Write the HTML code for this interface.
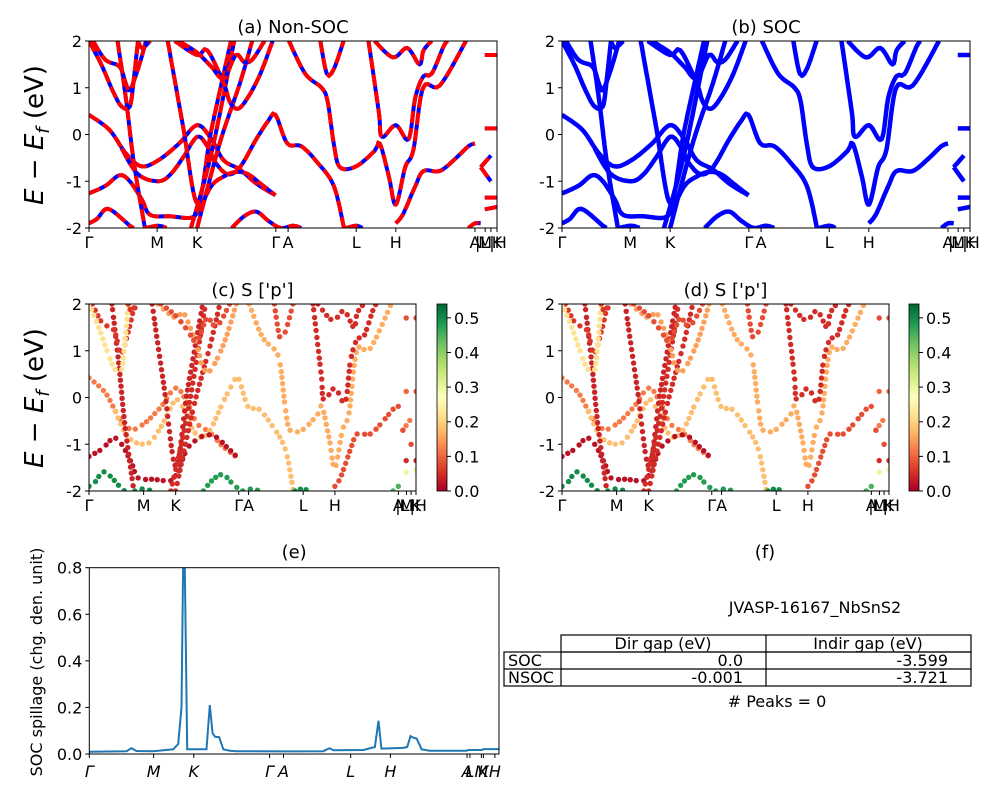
<!DOCTYPE html>
<html><head><meta charset="utf-8"><style>
html,body{margin:0;padding:0;background:#fff;}
svg{display:block;font-family:"DejaVu Sans","Liberation Sans",sans-serif;}
</style></head><body>
<svg id="fig" width="1000" height="800" viewBox="0 0 1000 800" xmlns="http://www.w3.org/2000/svg">
<defs>
<linearGradient id="rdylgn" x1="0" y1="1" x2="0" y2="0">
<stop offset="0" stop-color="#a50026"/><stop offset="0.1" stop-color="#d73027"/><stop offset="0.2" stop-color="#f46d43"/><stop offset="0.3" stop-color="#fdae61"/><stop offset="0.4" stop-color="#fee08b"/><stop offset="0.5" stop-color="#ffffbf"/><stop offset="0.6" stop-color="#d9ef8b"/><stop offset="0.7" stop-color="#a6d96a"/><stop offset="0.8" stop-color="#66bd63"/><stop offset="0.9" stop-color="#1a9850"/><stop offset="1" stop-color="#006837"/>
</linearGradient>
</defs>
<g id="layer"></g>
<g>
<text x="815" y="613" font-size="16" text-anchor="middle">JVASP-16167_NbSnS2</text>
<text x="765" y="558" font-size="18" text-anchor="middle">(f)</text>
<g fill="none" stroke="#000" stroke-width="1.2">
<rect x="561" y="635" width="410" height="17"/><rect x="504" y="652" width="467" height="34"/>
<line x1="504" y1="669" x2="971" y2="669"/><line x1="561" y1="652" x2="561" y2="686"/><line x1="766" y1="635" x2="766" y2="686"/>
</g>
<g font-size="16">
<text x="663" y="649" text-anchor="middle">Dir gap (eV)</text>
<text x="868" y="649" text-anchor="middle">Indir gap (eV)</text>
<text x="508" y="666">SOC</text>
<text x="508" y="683">NSOC</text>
<text x="743" y="666" text-anchor="end">0.0</text>
<text x="743" y="683" text-anchor="end">-0.001</text>
<text x="948" y="666" text-anchor="end">-3.599</text>
<text x="948" y="683" text-anchor="end">-3.721</text>
<text x="777" y="707" text-anchor="middle"># Peaks = 0</text>
</g>
</g>
</svg>
<script>
// band data: k fraction along path, energy (eV)
const bandK = [
 [0,0.05,0.09,0.128,0.17,0.22,0.265,0.3,0.33,0.37,0.41,0.457],
 [0.08,0.12,0.17,0.2,0.23,0.265,0.29,0.31,0.34,0.37,0.41,0.44,0.457,0.486,0.52,0.56,0.6,0.625],
 [0,0.04,0.075,0.1,0.13,0.15,0.2,0.25,0.27,0.3,0.33,0.36,0.39,0.42,0.457],
 [0,0.02,0.04,0.06,0.1,0.11],
 [0.14,0.17,0.19],
 [0.35,0.38,0.41,0.44,0.47,0.5,0.52],
 [0.07,0.09,0.11,0.137],
 [0.01,0.04,0.075,0.09,0.1,0.12,0.14],
 [0,0.03,0.06,0.08,0.1,0.11,0.12],
 [0.193,0.23,0.266,0.3,0.348],
 [0.25,0.3,0.356],
 [0.265,0.32,0.37,0.4],
 [0.21,0.265,0.29,0.33,0.345,0.365,0.39,0.42,0.45],
 [0.22,0.265,0.3,0.33,0.36,0.38,0.4,0.43],
 [0.49,0.53,0.57,0.585,0.6,0.615,0.655,0.7,0.713,0.735,0.752,0.775,0.795,0.819,0.86,0.924],
 [0.685,0.71,0.718,0.752,0.783,0.8,0.82,0.84,0.87,0.88],
 [0.752,0.77,0.8,0.82,0.86,0.9,0.93,0.946],
 [0.63,0.655,0.67],
 [0.7,0.745,0.78,0.81,0.82,0.84],
 [0.567,0.583,0.6,0.624],
 [0.12,0.13,0.15],
 [0.97,1],[0.97,1],[0.96,0.975,0.985],[0.96,0.985],[0.97,1],[0.97,1],[0.93,0.946,0.96]
];
const bandE = [
 [0.42,0.1,-0.4,-0.68,-0.55,-0.2,0.2,-0.1,-0.55,-0.75,-1.05,-1.3],
 [-0.3,-0.85,-1.0,-0.85,-0.5,-0.05,-0.25,-0.6,-0.85,-0.7,-0.1,0.3,0.42,-0.19,-0.25,-0.6,-1.1,-2.0],
 [-1.26,-1.1,-0.87,-1.0,-1.4,-1.72,-1.75,-1.78,-1.6,-1.1,-0.9,-0.8,-0.85,-1.05,-1.3],
 [-1.9,-1.8,-1.6,-1.65,-1.95,-2],
 [-2,-1.95,-2],
 [-2,-1.75,-1.65,-1.85,-2,-1.95,-2],
 [2,0.8,-0.6,-2],
 [2,1.6,1.45,1.1,0.95,1.4,2],
 [2,1.5,0.9,0.6,0.6,1.2,2],
 [2,0.2,-1.47,0.1,2],
 [-2,-0.4,2],
 [-2,-0.2,1.1,2],
 [2,1.7,1.8,1.1,0.7,0.55,0.8,1.3,2],
 [2,1.75,1.45,1.2,1.7,1.55,1.6,2],
 [2,1.3,1.0,0.7,-0.2,-0.7,-0.68,-0.35,-0.2,-0.9,-1.5,-0.7,-0.33,1.0,1.05,2],
 [2,0.5,-0.05,0.2,-0.1,0.8,1.25,1.3,1.9,2],
 [-1.9,-1.7,-1.1,-0.78,-0.78,-0.5,-0.25,-0.19],
 [-2,-1.95,-2],
 [2,1.65,1.85,1.5,1.8,2],
 [2,1.3,1.4,2],
 [2,1.85,2],
 [1.7,1.7],[0.13,0.13],[-0.7,-0.55,-0.45],[-0.7,-1.0],[-1.35,-1.35],[-1.6,-1.55],[-2,-1.9,-1.9]
];
// S p-orbital weight per band (panels c,d)
const bandW = [0.12,0.18,0.02,0.5,0.5,0.48,0.04,0.06,0.22,0.04,0.05,0.05,0.15,0.08,0.16,0.05,0.08,0.5,0.05,0.08,0.06,0.08,0.1,0.12,0.08,0.05,0.3,0.45];
const tickK = [0,0.167,0.265,0.458,0.488,0.655,0.752,0.946,0.971,0.985,1];
const tickLab = ['Γ','M','K','Γ','A','L','H','A','M','|L|H','K'];
const yTicks = [-2,-1,0,1,2];
const cbTicks = [0.0,0.1,0.2,0.3,0.4,0.5];
// SOC spillage series
const spK = [0,0.091,0.103,0.115,0.156,0.205,0.217,0.225,0.229,0.233,0.239,0.286,0.294,0.301,0.307,0.317,0.327,0.343,0.359,0.474,0.571,0.586,0.596,0.669,0.697,0.706,0.713,0.766,0.776,0.784,0.791,0.799,0.811,0.831,0.921,0.925,0.958,0.962,1];
const spV = [0.01,0.012,0.025,0.013,0.012,0.02,0.043,0.2,0.8,0.8,0.02,0.02,0.21,0.089,0.074,0.072,0.02,0.014,0.012,0.011,0.012,0.025,0.016,0.017,0.03,0.143,0.023,0.026,0.03,0.077,0.07,0.066,0.02,0.014,0.014,0.017,0.017,0.021,0.021];
const spTickK = [0,0.157,0.255,0.44,0.474,0.638,0.735,0.922,0.929,0.957,0.962,0.99];
const spTickLab = ['Γ','M','K','Γ','A','L','H','A','L','M','K','H'];
const spYTicks = [0.0,0.2,0.4,0.6,0.8];

const NS='http://www.w3.org/2000/svg';
const root=document.getElementById('layer');
function mk(tag,attrs,parent){const e=document.createElementNS(NS,tag);for(const k in attrs)e.setAttribute(k,attrs[k]);(parent||root).appendChild(e);return e;}
function cmap(v){
 const st=['#a50026','#d73027','#f46d43','#fdae61','#fee08b','#ffffbf','#d9ef8b','#a6d96a','#66bd63','#1a9850','#006837'];
 let t=Math.max(0,Math.min(1,v/0.54))*10;const i=Math.min(9,Math.floor(t)),f=t-i;
 const a=st[i],b=st[i+1];const p=(h,o)=>parseInt(h.substr(o,2),16);
 const c=[1,3,5].map(o=>Math.round(p(a,o)*(1-f)+p(b,o)*f));return 'rgb('+c.join(',')+')';
}
// Catmull-Rom smoothing of a screen-space polyline
function smooth(pts){
 if(pts.length<3)return pts;
 const out=[];
 for(let i=0;i<pts.length-1;i++){
  const p0=pts[Math.max(0,i-1)],p1=pts[i],p2=pts[i+1],p3=pts[Math.min(pts.length-1,i+2)];
  const n=Math.max(2,Math.ceil(Math.hypot(p2[0]-p1[0],p2[1]-p1[1])/3));
  for(let j=0;j<n;j++){const t=j/n,t2=t*t,t3=t2*t;
   out.push([0,1].map(c=>0.5*(2*p1[c]+(-p0[c]+p2[c])*t+(2*p0[c]-5*p1[c]+4*p2[c]-p3[c])*t2+(-p0[c]+3*p1[c]-3*p2[c]+p3[c])*t3)));}
 }
 out.push(pts[pts.length-1]);return out;
}
function panel(P,kind,title,name){
 const g=mk('g',{});
 
 
 const X=k=>P.x0+k*(P.x1-P.x0), Y=e=>P.y1-(e+2)/4*(P.y1-P.y0);
 const cid='clip'+name;const cp=mk('clipPath',{id:cid},g);mk('rect',{x:P.x0,y:P.y0,width:P.x1-P.x0,height:P.y1-P.y0},cp);
 const mg=mk('g',{'clip-path':'url(#'+cid+')'},g);
 bandK.forEach((ks,b)=>{
  const es=bandE[b];
  const pts=smooth(ks.map((k,i)=>[X(k),Y(es[i])]));
  const d=pts.map((p,i)=>(i?'L':'M')+p[0].toFixed(1)+','+p[1].toFixed(1)).join('');
  if(kind==='nsoc'){
   const l1=mk('path',{d:d,fill:'none',stroke:'#0000ff','stroke-width':4,'stroke-linejoin':'round'},mg);
   
   
   const l2=mk('path',{d:d,fill:'none',stroke:'#ff0000','stroke-width':4,'stroke-dasharray':'12,5'},mg);
   
   
  } else if(kind==='soc'){
   const l=mk('path',{d:d,fill:'none',stroke:'#0000ff','stroke-width':4.5,'stroke-linejoin':'round'},mg);
   
   
  } else {
   let acc=6;
   for(let i=0;i<pts.length;i++){
    if(i>0)acc+=Math.hypot(pts[i][0]-pts[i-1][0],pts[i][1]-pts[i-1][1]);
    if(acc<5.5)continue;acc=0;
    const c=mk('circle',{cx:pts[i][0].toFixed(1),cy:pts[i][1].toFixed(1),r:2.7,fill:cmap(bandW[b])},mg);
    
    
   }
  }
 });
 mk('rect',{x:P.x0,y:P.y0,width:P.x1-P.x0,height:P.y1-P.y0,fill:'none',stroke:'#000','stroke-width':1},g);
 yTicks.forEach(v=>{mk('line',{x1:P.x0-4,x2:P.x0,y1:Y(v),y2:Y(v),stroke:'#000'},g);
  const t=mk('text',{x:P.x0-7,y:Y(v)+6,'font-size':16,'text-anchor':'end'},g);t.textContent=v;
  
  });
 tickK.forEach((k,i)=>{mk('line',{x1:X(k),x2:X(k),y1:P.y1,y2:P.y1+4,stroke:'#000'},g);
  const t=mk('text',{x:X(k),y:P.y1+20,'font-size':16,'text-anchor':'middle'},g);t.textContent=tickLab[i];
  
  });
 const tt=mk('text',{x:(P.x0+P.x1)/2,y:P.y0-8,'font-size':18,'text-anchor':'middle'},g);tt.textContent=title;
 
 
 if(P.cb){
  const r=mk('rect',{x:P.cb,y:P.y0,width:10,height:P.y1-P.y0,fill:'url(#rdylgn)',stroke:'#000','stroke-width':0.8},g);
  
  
  cbTicks.forEach(v=>{const y=P.y1-v/0.54*(P.y1-P.y0);mk('line',{x1:P.cb+10,x2:P.cb+14,y1:y,y2:y,stroke:'#000'},g);
   const t=mk('text',{x:P.cb+17,y:y+6,'font-size':16},g);t.textContent=v.toFixed(1);
   
   });
 }
}
panel({x0:89,x1:497,y0:41,y1:228},'nsoc','(a) Non-SOC','panel-a-non-soc');
panel({x0:562,x1:970,y0:41,y1:228},'soc','(b) SOC','panel-b-soc');
panel({x0:89,x1:416,y0:304,y1:491,cb:437},'dots',"(c)  S ['p']",'panel-c-s-p');
panel({x0:562,x1:889,y0:304,y1:491,cb:909},'dots',"(d) S ['p']",'panel-d-s-p');
[135,398].forEach((cy,i)=>{const t=mk('text',{x:0,y:0,'font-size':26,'text-anchor':'middle',transform:'translate(43,'+cy+') rotate(-90)'});
 t.innerHTML='<tspan font-style="italic">E</tspan> − <tspan font-style="italic">E</tspan><tspan font-style="italic" font-size="18" dy="6">f</tspan><tspan dy="-6"> (eV)</tspan>';
 
 });
// panel e
(function(){
 const P={x0:89.3,x1:499,y0:567.7,y1:754};
 const g=mk('g',{});
 
 
 const X=k=>P.x0+k*(P.x1-P.x0),Y=v=>P.y1-v/0.8*(P.y1-P.y0);
 const cp=mk('clipPath',{id:'clipE'},g);mk('rect',{x:P.x0,y:P.y0,width:P.x1-P.x0,height:P.y1-P.y0},cp);
 const l=mk('path',{d:spK.map((k,i)=>(i?'L':'M')+X(k).toFixed(1)+','+Y(spV[i]).toFixed(1)).join(''),fill:'none',stroke:'#1f77b4','stroke-width':2,'clip-path':'url(#clipE)'},g);
 
 
 mk('rect',{x:P.x0,y:P.y0,width:P.x1-P.x0,height:P.y1-P.y0,fill:'none',stroke:'#000'},g);
 spYTicks.forEach(v=>{mk('line',{x1:P.x0-4,x2:P.x0,y1:Y(v),y2:Y(v),stroke:'#000'},g);
  const t=mk('text',{x:P.x0-7,y:Y(v)+6,'font-size':16,'text-anchor':'end'},g);t.textContent=v.toFixed(1);
  
  });
 spTickK.forEach((k,i)=>{mk('line',{x1:X(k),x2:X(k),y1:P.y1,y2:P.y1+4,stroke:'#000'},g);
  const t=mk('text',{x:X(k),y:P.y1+23,'font-size':16,'text-anchor':'middle','font-style':'italic'},g);t.textContent=spTickLab[i];
  
  });
 const tt=mk('text',{x:(P.x0+P.x1)/2,y:558,'font-size':18,'text-anchor':'middle'},g);tt.textContent='(e)';
 
 
 const yl=mk('text',{x:0,y:0,'font-size':16,'text-anchor':'middle',transform:'translate(42,662) rotate(-90)'},g);yl.textContent='SOC spillage (chg. den. unit)';
 
 
})();
</script>
</body></html>
